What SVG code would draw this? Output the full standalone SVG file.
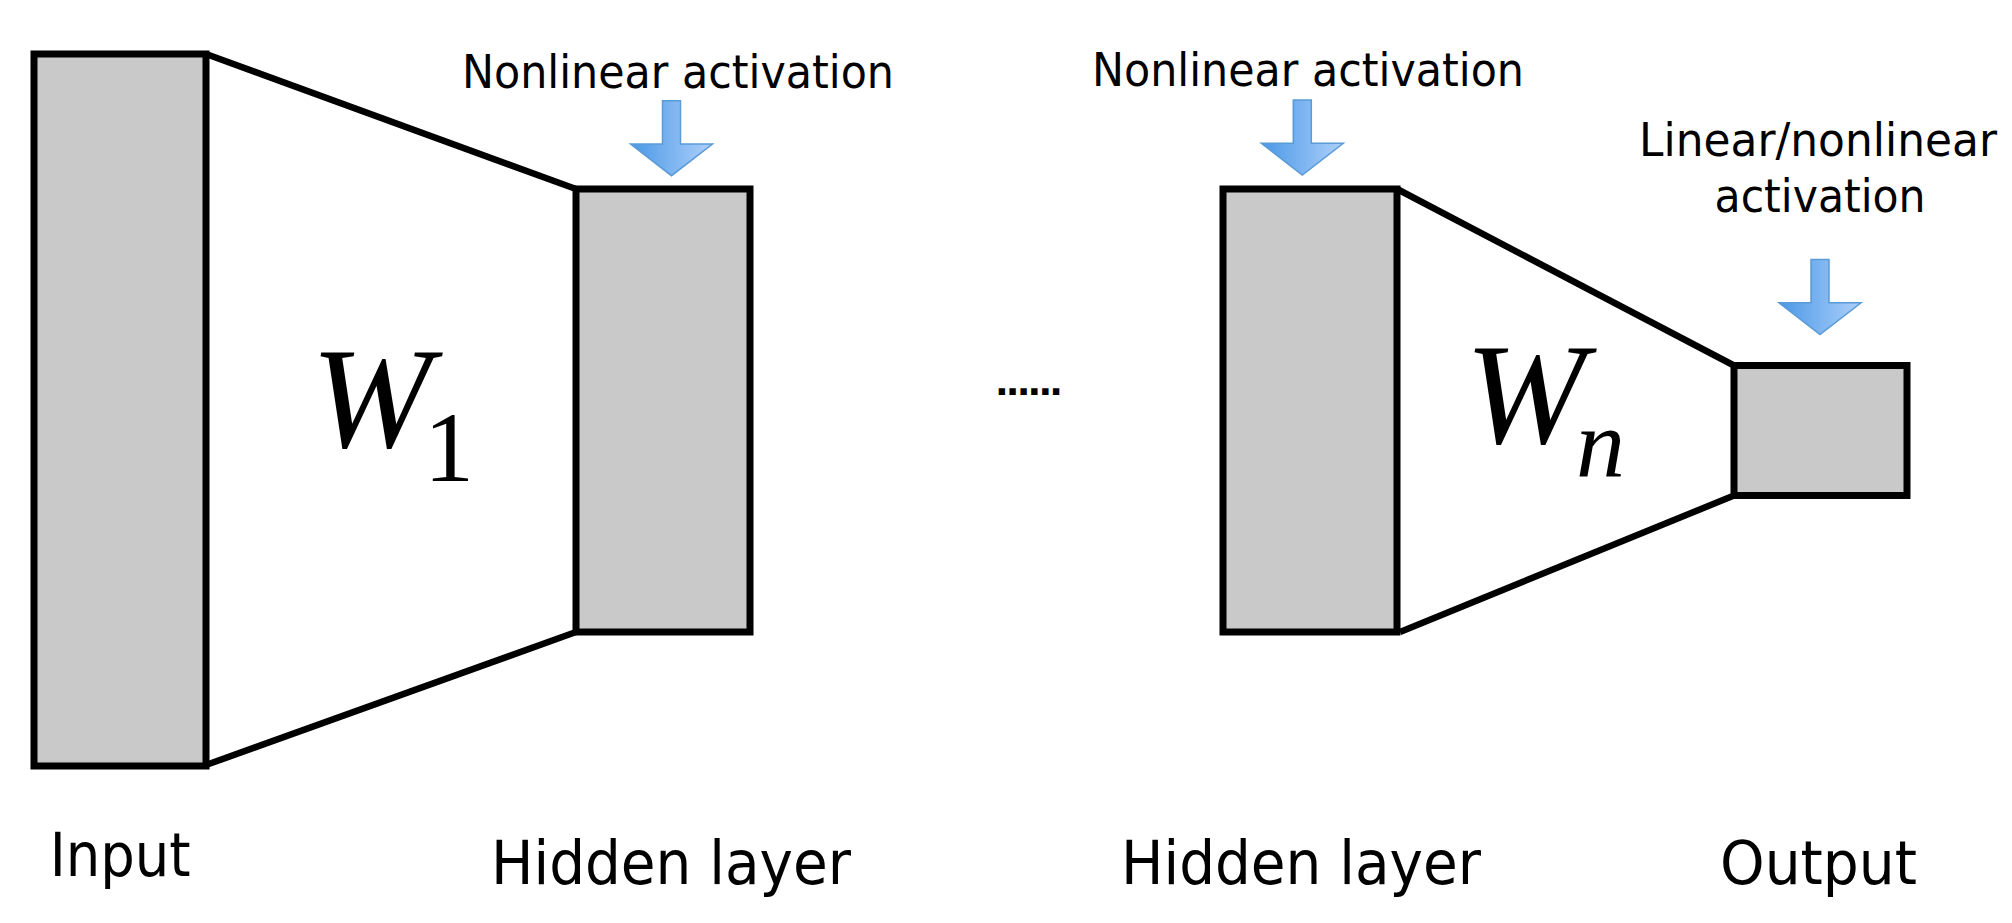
<svg xmlns="http://www.w3.org/2000/svg" width="2012" height="923" viewBox="0 0 2012 923">
  <defs>
    <linearGradient id="blueGrad" x1="0" y1="0" x2="1" y2="0">
      <stop offset="0" stop-color="#4a98e6"/>
      <stop offset="1" stop-color="#aed0fb"/>
    </linearGradient>
    <path id="downArrow" d="M-9,0 H9 V43.3 H41 L0,75 L-41,43.3 H-9 Z" fill="url(#blueGrad)" stroke="#5b9bd5" stroke-width="1.5" stroke-linejoin="miter"/>
  </defs>
  <style>
    .layer { fill: #c9c9c9; stroke: #000; stroke-width: 7; }
    .edge { stroke: #000; stroke-width: 6.5; fill: none; stroke-linecap: butt; }
    .lbl { font-family: "DejaVu Sans", "Noto Sans", sans-serif; fill: #000; }
    .act { font-size: 46px; }
    .name { font-size: 60px; }
    .math { font-family: "Liberation Serif", "Times New Roman", serif; fill: #000; }
  </style>
  <rect x="0" y="0" width="2012" height="923" fill="#ffffff"/>

  <g id="connectors">
    <line class="edge" x1="206" y1="54" x2="576" y2="189"/>
    <line class="edge" x1="206" y1="765" x2="576" y2="632"/>
    <line class="edge" x1="1397" y1="189" x2="1734" y2="365.5"/>
    <line class="edge" x1="1400" y1="632" x2="1734" y2="495.5"/>
  </g>

  <g id="input">
    <rect class="layer" x="34" y="54" width="172" height="712"/>
    <text class="lbl name" x="49.7" y="876" textLength="141" lengthAdjust="spacingAndGlyphs">Input</text>
  </g>

  <g id="hidden1">
    <rect class="layer" x="576" y="189" width="174" height="443"/>
    <use href="#downArrow" transform="translate(671.5,100.7)"/>
    <text class="lbl act" x="462" y="88" textLength="432" lengthAdjust="spacingAndGlyphs">Nonlinear activation</text>
    <text class="lbl name" x="491" y="884" textLength="360" lengthAdjust="spacingAndGlyphs">Hidden layer</text>
  </g>

  <g id="weights1">
    <text class="math" x="311" y="447" font-size="145" font-style="italic">W<tspan x="424" y="481" font-size="100" font-style="normal">1</tspan></text>
  </g>

  <g id="ellipsis">
    <text x="995" y="395" font-family="DejaVu Sans, sans-serif" font-weight="bold" font-size="36" textLength="68" lengthAdjust="spacing">......</text>
  </g>

  <g id="hidden2">
    <rect class="layer" x="1223" y="189" width="174" height="443"/>
    <use href="#downArrow" transform="translate(1302.3,100)"/>
    <text class="lbl act" x="1092" y="86" textLength="432" lengthAdjust="spacingAndGlyphs">Nonlinear activation</text>
    <text class="lbl name" x="1121" y="884" textLength="360" lengthAdjust="spacingAndGlyphs">Hidden layer</text>
  </g>

  <g id="weightsN">
    <text class="math" x="1465" y="443" font-size="145" font-style="italic">W<tspan x="1576" y="476" font-size="98">n</tspan></text>
  </g>

  <g id="output">
    <rect class="layer" x="1734" y="365.5" width="173" height="130"/>
    <use href="#downArrow" transform="translate(1820,259.5)"/>
    <text class="lbl act" x="1639" y="156" textLength="358" lengthAdjust="spacingAndGlyphs">Linear/nonlinear</text>
    <text class="lbl act" x="1714.6" y="212" textLength="211" lengthAdjust="spacingAndGlyphs">activation</text>
    <text class="lbl name" x="1720" y="884" textLength="197" lengthAdjust="spacingAndGlyphs">Output</text>
  </g>
</svg>
